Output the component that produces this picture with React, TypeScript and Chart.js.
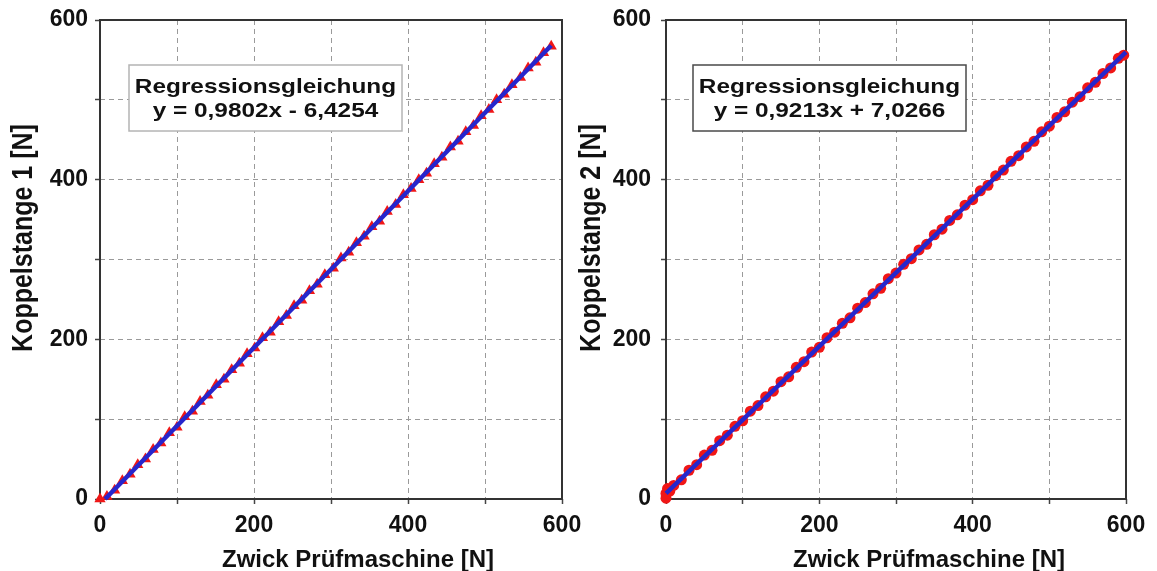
import React, { useEffect, useRef } from 'react';
import { Chart, registerables } from 'chart.js';

Chart.register(...registerables);

const FONT = '"Liberation Sans", Arial, Helvetica, sans-serif';

// ---- data ----
const axisTickValues = [0, 100, 200, 300, 400, 500, 600];
const axisTickLabels = ['0', '', '200', '', '400', '', '600'];

const leftX = [0, 9, 19, 29, 39, 49, 59, 69, 79, 90, 100, 110, 120, 130, 140, 151, 161, 171, 181, 191, 201, 211, 221, 232, 242, 252, 262, 272, 282, 292, 303, 313, 323, 333, 343, 353, 363, 373, 384, 394, 404, 414, 424, 434, 444, 455, 465, 475, 485, 495, 505, 515, 525, 535, 546, 556, 566, 576, 586];
const leftY = [0, 3, 11, 23, 31, 43, 50, 62, 70, 83, 90, 103, 110, 122, 130, 143, 150, 162, 170, 182, 189, 202, 209, 222, 230, 242, 249, 261, 269, 281, 289, 302, 309, 321, 329, 341, 348, 360, 369, 381, 389, 400, 408, 420, 428, 441, 448, 460, 468, 480, 488, 500, 507, 519, 528, 540, 547, 559, 567];
const leftLineX = [6.6, 586];
const leftLineY = [0, 568.0];

const rightX = [0, 0, 2, 5, 10, 20, 30, 40, 50, 60, 70, 80, 90, 100, 110, 120, 130, 140, 150, 160, 170, 180, 190, 200, 210, 220, 230, 240, 250, 260, 270, 280, 290, 300, 310, 320, 330, 340, 350, 360, 370, 380, 390, 400, 410, 420, 430, 440, 450, 460, 470, 480, 490, 500, 510, 520, 530, 540, 550, 560, 570, 580, 590, 597];
const rightY = [1, 7, 13, 10, 17, 24, 36, 43, 55, 61, 73, 80, 91, 98, 110, 117, 128, 135, 147, 153, 165, 172, 184, 190, 202, 209, 220, 227, 239, 246, 257, 264, 276, 283, 294, 301, 312, 319, 331, 338, 349, 356, 368, 375, 386, 393, 405, 412, 423, 430, 441, 448, 460, 467, 478, 485, 497, 504, 515, 522, 533, 540, 552, 556];
const rightLineX = [0, 600];
const rightLineY = [7.03, 559.8];

const xTitle = 'Zwick Prüfmaschine [N]';
const leftYTitle = 'Koppelstange 1 [N]';
const rightYTitle = 'Koppelstange 2 [N]';
const annTitle = 'Regressionsgleichung';
const leftEq = 'y = 0,9802x - 6,4254';
const rightEq = 'y = 0,9213x + 7,0266';

type PanelProps = {
  left: number;
  width: number;
  yAxisWidth: number;
  padRight: number;
  padTop: number;
  yTickPad: number;
  xs: number[];
  ys: number[];
  lx: number[];
  ly: number[];
  pointStyle: string;
  pointRadius: number;
  yTitle: string;
  yTitleX: number;
  xTitleShift: number;
  eq: string;
  boxBorder: string;
  boxDx: number;
};

function Panel(p: PanelProps) {
  const ref = useRef<HTMLCanvasElement>(null);
  useEffect(() => {
    const canvas = ref.current!;
    const framePlugin = {
      id: 'frameAndText',
      beforeDatasetsDraw(chart: any) {
        const { ctx, chartArea: a } = chart;
        ctx.save();
        ctx.strokeStyle = '#333';
        ctx.lineWidth = 2;
        ctx.strokeRect(a.left, a.top, a.right - a.left, a.bottom - a.top);
        ctx.restore();
      },
      afterDraw(chart: any) {
        const { ctx, chartArea: a } = chart;
        ctx.save();
        ctx.fillStyle = '#111';
        ctx.font = `bold 24px ${FONT}`;
        ctx.textAlign = 'center';
        ctx.textBaseline = 'alphabetic';
        ctx.fillText(xTitle, (a.left + a.right) / 2 + p.xTitleShift, 567);
        ctx.restore();

        ctx.save();
        ctx.fillStyle = '#111';
        ctx.translate(p.yTitleX, 238);
        ctx.rotate(-Math.PI / 2);
        ctx.scale(1, 1.15);
        ctx.font = `bold 25px ${FONT}`;
        ctx.textAlign = 'center';
        ctx.textBaseline = 'middle';
        ctx.fillText(p.yTitle, 0, 0);
        ctx.restore();

        const bx = a.left + p.boxDx;
        const by = 65;
        const bw = 273;
        const bh = 66;
        ctx.save();
        ctx.fillStyle = '#fff';
        ctx.fillRect(bx, by, bw, bh);
        ctx.strokeStyle = p.boxBorder;
        ctx.lineWidth = 1.5;
        ctx.strokeRect(bx, by, bw, bh);
        ctx.fillStyle = '#111';
        ctx.font = `bold 21px ${FONT}`;
        ctx.textAlign = 'center';
        ctx.textBaseline = 'alphabetic';
        const cx = bx + bw / 2;
        ctx.save();
        ctx.translate(cx, by + 28);
        ctx.scale(1.16, 1);
        ctx.fillText(annTitle, 0, 0);
        ctx.restore();
        ctx.save();
        ctx.translate(cx, by + 52);
        ctx.scale(1.16, 1);
        ctx.fillText(p.eq, 0, 0);
        ctx.restore();
        ctx.restore();
      },
    };

    const tickFont = { family: FONT, size: 23, weight: 'bold' as const };
    const gridOpts = {
      color: '#9a9a9a',
      lineWidth: 1,
      tickColor: '#444',
      tickLength: 5,
      tickWidth: 1.5,
      drawTicks: true,
    };
    const tickCb = (v: any) => {
      const i = axisTickValues.indexOf(Number(v));
      return i >= 0 ? axisTickLabels[i] : '';
    };

    const chart = new Chart(canvas, {
      type: 'scatter',
      data: {
        datasets: [
          {
            data: p.lx.map((x, i) => ({ x, y: p.ly[i] })),
            showLine: true,
            borderColor: '#2626cc',
            borderWidth: 4.5,
            pointRadius: 0,
            clip: false,
            order: 1,
          } as any,
          {
            data: p.xs.map((x, i) => ({ x, y: p.ys[i] })),
            pointStyle: p.pointStyle,
            pointRadius: p.pointRadius,
            backgroundColor: '#f01616',
            borderColor: '#f01616',
            borderWidth: 0,
            clip: false,
            order: 2,
          } as any,
        ],
      },
      options: {
        responsive: false,
        animation: false,
        layout: { padding: { left: 0, top: p.padTop, right: p.padRight, bottom: 0 } },
        plugins: { legend: { display: false }, tooltip: { enabled: false } },
        scales: {
          x: {
            type: 'linear',
            min: 0,
            max: 600,
            ticks: {
              stepSize: 100,
              callback: tickCb,
              font: tickFont,
              color: '#111',
              padding: 8,
              maxRotation: 0,
              autoSkip: false,
            },
            grid: gridOpts,
            border: { display: false, dash: [5, 4] },
            afterFit: (s: any) => {
              s.height = 72;
              s.paddingLeft = 0;
              s.paddingRight = 0;
            },
          },
          y: {
            type: 'linear',
            min: 0,
            max: 600,
            ticks: {
              stepSize: 100,
              callback: tickCb,
              font: tickFont,
              color: '#111',
              padding: p.yTickPad,
              autoSkip: false,
            },
            grid: gridOpts,
            border: { display: false, dash: [5, 4] },
            afterFit: (s: any) => {
              s.width = p.yAxisWidth;
              s.paddingTop = 0;
              s.paddingBottom = 0;
            },
          },
        },
      } as any,
      plugins: [framePlugin],
    });
    return () => chart.destroy();
  }, []);

  return (
    <div style={{ position: 'absolute', left: p.left, top: 0, width: p.width, height: 571 }}>
      <canvas ref={ref} width={p.width} height={571} style={{ display: 'block' }} />
    </div>
  );
}

export default function App() {
  return (
    <div style={{ position: 'absolute', left: 0, top: 0, width: 1157, height: 571, background: '#fff', overflow: 'hidden' }}>
      <Panel
        left={0}
        width={610}
        yAxisWidth={100}
        padRight={48}
        padTop={20}
        yTickPad={7}
        xs={leftX}
        ys={leftY}
        lx={leftLineX}
        ly={leftLineY}
        pointStyle="triangle"
        pointRadius={6.5}
        yTitle={leftYTitle}
        yTitleX={24}
        xTitleShift={27}
        eq={leftEq}
        boxBorder="#b4b4b4"
        boxDx={29}
      />
      <Panel
        left={570}
        width={587}
        yAxisWidth={96}
        padRight={31}
        padTop={20}
        yTickPad={10}
        xs={rightX}
        ys={rightY}
        lx={rightLineX}
        ly={rightLineY}
        pointStyle="circle"
        pointRadius={5.5}
        yTitle={rightYTitle}
        yTitleX={22}
        xTitleShift={33}
        eq={rightEq}
        boxBorder="#4a4a4a"
        boxDx={27}
      />
    </div>
  );
}
